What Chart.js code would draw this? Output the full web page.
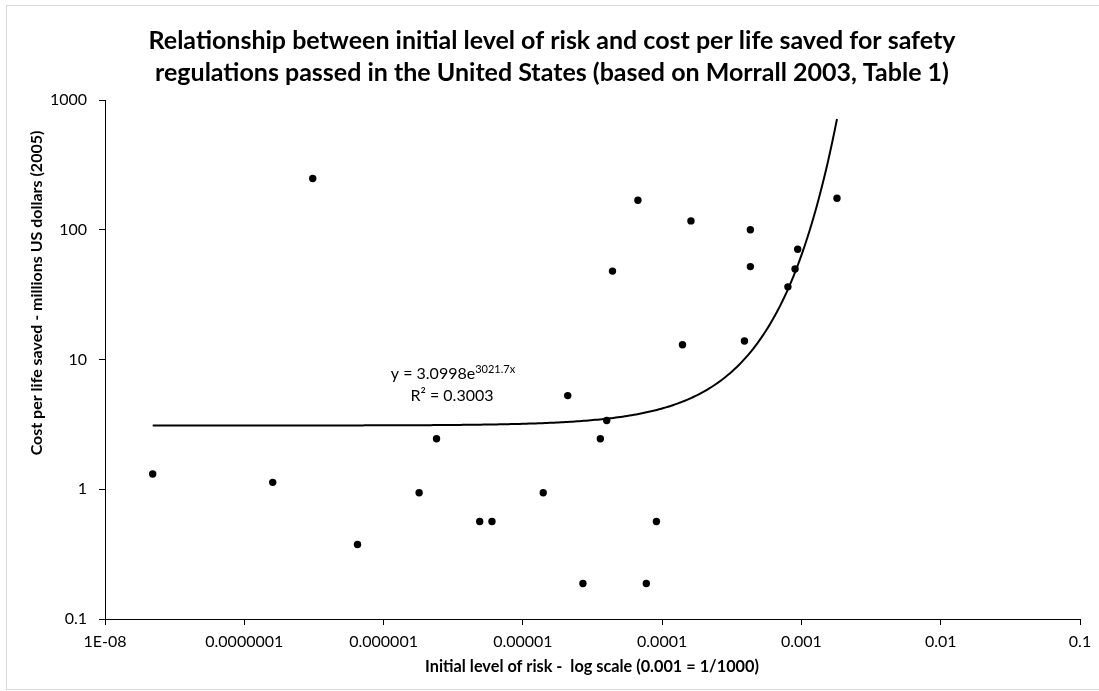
<!DOCTYPE html>
<html>
<head>
<meta charset="utf-8">
<script src="https://cdn.jsdelivr.net/npm/chart.js@4/dist/chart.umd.min.js"></script>
<style>
  html, body { margin: 0; padding: 0; background: #fff; }
  #wrap { width: 1099px; height: 691px; }
</style>
</head>
<body>
<div id="wrap"><canvas id="grafico" width="1099" height="691"></canvas></div>
<script>
// initial level of risk (x) and cost per life saved, millions US$ 2005 (y)
const riskLevel = [
  2.2e-8, 1.6e-7, 3.1e-7, 6.5e-7, 1.8e-6, 2.4e-6, 4.9e-6, 6.0e-6, 1.4e-5,
  2.1e-5, 2.7e-5, 3.6e-5, 4.0e-5, 4.4e-5, 6.7e-5, 7.7e-5, 9.1e-5, 1.4e-4,
  1.61e-4, 3.9e-4, 4.3e-4, 4.3e-4, 8.0e-4, 9.0e-4, 9.4e-4, 1.8e-3
];
const costPerLife = [
  1.31, 1.13, 248, 0.375, 0.94, 2.45, 0.564, 0.564, 0.94,
  5.27, 0.188, 2.45, 3.39, 48, 169, 0.188, 0.564, 13,
  117, 13.9, 100, 52, 36.3, 49.9, 70.8, 175
];

// exponential trendline as printed on the chart
const TREND_A = 3.0998;
const TREND_B = 3021.7;
const TREND_R2 = '0.3003';

const xTickValues = [1e-8, 1e-7, 1e-6, 1e-5, 1e-4, 1e-3, 1e-2, 1e-1];
const xTickLabels = ['1E-08', '0.0000001', '0.000001', '0.00001', '0.0001', '0.001', '0.01', '0.1'];
const yTickValues = [0.1, 1, 10, 100, 1000];
const yTickLabels = ['0.1', '1', '10', '100', '1000'];

const titleLines = [
  'Relationship between initial level of risk and cost per life saved for safety',
  'regulations passed in the United States (based on Morrall 2003, Table 1)'
];
const xTitle = 'Initial level of risk -  log scale (0.001 = 1/1000)';
const yTitle = 'Cost per life saved - millions US dollars (2005)';

const FONT = 'Lato, "Open Sans", sans-serif';

// trendline samples between the smallest and largest risk level
const xMin = Math.min(...riskLevel);
const xMax = Math.max(...riskLevel);
const trendPoints = [];
for (let i = 0; i <= 300; i++) {
  const x = Math.pow(10, Math.log10(xMin) + (Math.log10(xMax) - Math.log10(xMin)) * i / 300);
  trendPoints.push({ x: x, y: TREND_A * Math.exp(TREND_B * x) });
}

const puntos = riskLevel.map((x, i) => ({ x: x, y: costPerLife[i] }));

const textos = {
  id: 'textos',
  afterDraw(chart) {
    const ctx = chart.ctx;
    ctx.save();

    // outer border
    ctx.strokeStyle = '#d9d9d9';
    ctx.lineWidth = 1;
    ctx.strokeRect(6.5, 5.5, 1200, 684);

    ctx.fillStyle = '#000';
    ctx.textAlign = 'center';
    ctx.textBaseline = 'alphabetic';

    // title
    ctx.font = 'bold 25px ' + FONT;
    ctx.fillText(titleLines[0], 552, 49);
    ctx.fillText(titleLines[1], 552, 81);

    // x title
    ctx.font = 'bold 16.3px ' + FONT;
    ctx.textBaseline = 'middle';
    ctx.fillText(xTitle, 592, 667);

    // y title
    ctx.font = 'bold 16px ' + FONT;
    ctx.save();
    ctx.translate(37, 293);
    ctx.rotate(-Math.PI / 2);
    ctx.fillText(yTitle, 0, 0);
    ctx.restore();

    // trendline equation
    ctx.textBaseline = 'alphabetic';
    const base = 'y = ' + TREND_A + 'e';
    const sup = TREND_B + 'x';
    ctx.font = '16px ' + FONT;
    const wBase = ctx.measureText(base).width;
    ctx.font = '11px ' + FONT;
    const wSup = ctx.measureText(sup).width;
    const x0 = 453 - (wBase + wSup) / 2;
    ctx.textAlign = 'left';
    ctx.font = '16px ' + FONT;
    ctx.fillText(base, x0, 379);
    ctx.font = '11px ' + FONT;
    ctx.fillText(sup, x0 + wBase, 373);
    ctx.textAlign = 'center';
    ctx.font = '16px ' + FONT;
    ctx.fillText('R\u00b2 = ' + TREND_R2, 452, 401);

    ctx.restore();
  }
};

const ctx = document.getElementById('grafico').getContext('2d');
const chart = new Chart(ctx, {
  type: 'scatter',
  data: {
    datasets: [
      {
        label: 'Tendencia',
        data: trendPoints,
        showLine: true,
        borderColor: '#000',
        borderWidth: 2,
        pointRadius: 0,
        tension: 0,
        fill: false,
      },
      {
        label: 'Regulaciones',
        data: puntos,
        backgroundColor: '#000',
        borderWidth: 0,
        pointRadius: 3.7,
      }
    ]
  },
  options: {
    responsive: false,
    animation: false,
    layout: { padding: { top: 100, right: 19, left: 0, bottom: 0 } },
    plugins: {
      legend: { display: false },
      tooltip: { enabled: false },
    },
    scales: {
      x: {
        type: 'logarithmic',
        min: xTickValues[0],
        max: xTickValues[xTickValues.length - 1],
        afterBuildTicks: s => { s.ticks = xTickValues.map(v => ({ value: v })); },
        afterFit: s => { s.height = 72; },
        grid: { drawOnChartArea: false, drawTicks: true, tickLength: 6, color: '#000' },
        border: { color: '#000', width: 1 },
        ticks: {
          autoSkip: false,
          maxRotation: 0,
          padding: 7,
          color: '#000',
          font: { family: FONT, size: 16 },
          callback: (v, i) => xTickLabels[i],
        }
      },
      y: {
        type: 'logarithmic',
        min: yTickValues[0],
        max: yTickValues[yTickValues.length - 1],
        afterBuildTicks: s => { s.ticks = yTickValues.map(v => ({ value: v })); },
        afterFit: s => { s.width = 105; },
        grid: { drawOnChartArea: false, drawTicks: true, tickLength: 6, color: '#000' },
        border: { color: '#000', width: 1 },
        ticks: {
          autoSkip: false,
          padding: 12,
          color: '#000',
          font: { family: FONT, size: 16 },
          callback: (v, i) => yTickLabels[i],
        }
      }
    }
  },
  plugins: [textos]
});
</script>
</body>
</html>
